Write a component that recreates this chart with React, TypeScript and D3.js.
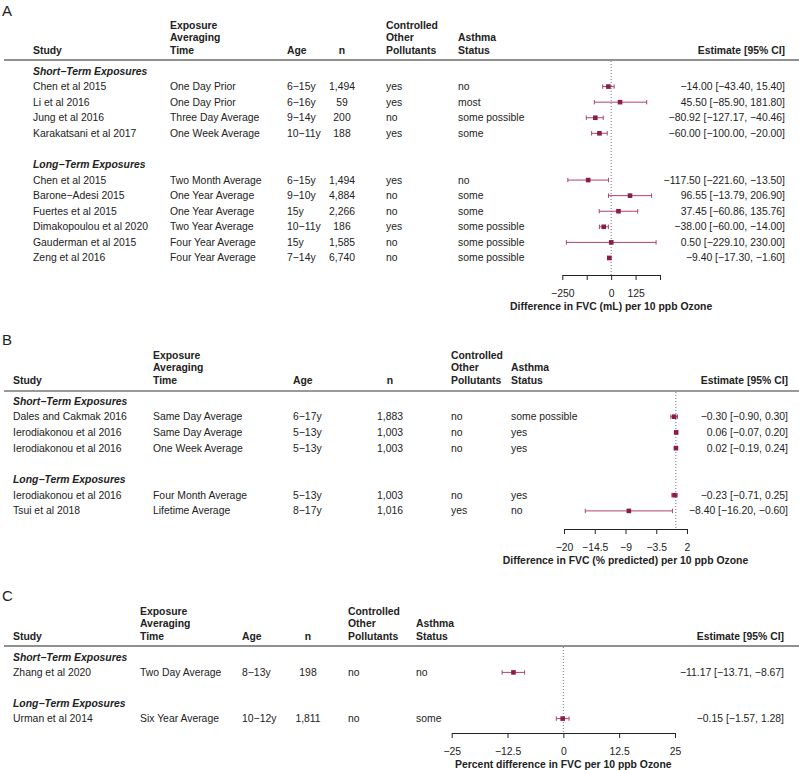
import React, { useEffect, useRef } from 'react';
import * as d3 from 'd3';

// ---------- Panel A: difference in FVC (mL)
const aTerm = ['short', 'short', 'short', 'short', 'long', 'long', 'long', 'long', 'long', 'long'];
const aStudy = ['Chen et al 2015', 'Li et al 2016', 'Jung et al 2016', 'Karakatsani et al 2017',
  'Chen et al 2015', 'Barone−Adesi 2015', 'Fuertes et al 2015', 'Dimakopoulou et al 2020',
  'Gauderman et al 2015', 'Zeng et al 2016'];
const aTime = ['One Day Prior', 'One Day Prior', 'Three Day Average', 'One Week Average',
  'Two Month Average', 'One Year Average', 'One Year Average', 'Two Year Average',
  'Four Year Average', 'Four Year Average'];
const aAge = ['6−15y', '6−16y', '9−14y', '10−11y', '6−15y', '9−10y', '15y', '10−11y', '15y', '7−14y'];
const aN = [1494, 59, 200, 188, 1494, 4884, 2266, 186, 1585, 6740];
const aOther = ['yes', 'yes', 'no', 'yes', 'yes', 'no', 'no', 'yes', 'no', 'no'];
const aAsthma = ['no', 'most', 'some possible', 'some', 'no', 'some', 'some', 'some possible',
  'some possible', 'some possible'];
const aEst = [-14.0, 45.5, -80.92, -60.0, -117.5, 96.55, 37.45, -38.0, 0.5, -9.4];
const aLo = [-43.4, -85.9, -127.17, -100.0, -221.6, -13.79, -60.86, -60.0, -229.1, -17.3];
const aHi = [15.4, 181.8, -40.46, -20.0, -13.5, 206.9, 135.76, -14.0, 230.0, -1.6];
const aTicks = [-250, -125, 0, 125, 250];
const aTickLabels = ['−250', '', '0', '125', ''];

// ---------- Panel B: difference in FVC (% predicted)
const bTerm = ['short', 'short', 'short', 'long', 'long'];
const bStudy = ['Dales and Cakmak 2016', 'Ierodiakonou et al 2016', 'Ierodiakonou et al 2016',
  'Ierodiakonou et al 2016', 'Tsui et al 2018'];
const bTime = ['Same Day Average', 'Same Day Average', 'One Week Average', 'Four Month Average',
  'Lifetime Average'];
const bAge = ['6−17y', '5−13y', '5−13y', '5−13y', '8−17y'];
const bN = [1883, 1003, 1003, 1003, 1016];
const bOther = ['no', 'no', 'no', 'no', 'yes'];
const bAsthma = ['some possible', 'yes', 'yes', 'yes', 'no'];
const bEst = [-0.3, 0.06, 0.02, -0.23, -8.4];
const bLo = [-0.9, -0.07, -0.19, -0.71, -16.2];
const bHi = [0.3, 0.2, 0.24, 0.25, -0.6];
const bTicks = [-20, -14.5, -9, -3.5, 2];
const bTickLabels = ['−20', '−14.5', '−9', '−3.5', '2'];

// ---------- Panel C: percent difference in FVC
const cTerm = ['short', 'long'];
const cStudy = ['Zhang et al 2020', 'Urman et al 2014'];
const cTime = ['Two Day Average', 'Six Year Average'];
const cAge = ['8−13y', '10−12y'];
const cN = [198, 1811];
const cOther = ['no', 'no'];
const cAsthma = ['no', 'some'];
const cEst = [-11.17, -0.15];
const cLo = [-13.71, -1.57];
const cHi = [-8.67, 1.28];
const cTicks = [-25, -12.5, 0, 12.5, 25];
const cTickLabels = ['−25', '−12.5', '0', '12.5', '25'];

const groupLabels = { short: 'Short−Term Exposures', long: 'Long−Term Exposures' };

const FONT = '"Liberation Sans", Arial, Helvetica, sans-serif';
const FS = 10.4;
const INK = '#222';
const SQ = '#8c1c40';
const CI = '#b0446a';

const fmtN = d3.format(',');
const fmt2 = (v: number) => v.toFixed(2).replace('-', '−');

function Axis({ scale, y, ticks, labels }: any) {
  const ref = useRef<SVGGElement>(null);
  useEffect(() => {
    const g = d3.select(ref.current);
    g.selectAll('*').remove();
    g.call(d3.axisBottom(scale)
      .tickValues(ticks)
      .tickFormat((d: any, i: number) => labels[i])
      .tickSize(5)
      .tickSizeOuter(0) as any);
    g.attr('font-family', null).attr('font-size', null);
    g.select('.domain').attr('stroke', INK);
    g.selectAll('.tick line').attr('stroke', INK);
    g.selectAll('.tick text').attr('y', 14.5).attr('dy', '0.35em').attr('fill', INK);
  });
  return <g ref={ref} transform={`translate(0,${y})`} />;
}

function Panel({ cfg, d }: any) {
  const x = d3.scaleLinear().domain(cfg.domain).range(cfg.range);
  // row order: group label, studies, blank, group label, studies
  const rows: any[] = [];
  ['short', 'long'].forEach((grp, gi) => {
    if (gi > 0) rows.push({ kind: 'blank' });
    rows.push({ kind: 'group', label: (groupLabels as any)[grp] });
    d.term.forEach((t: string, i: number) => { if (t === grp) rows.push({ kind: 'study', i }); });
  });
  const y = (k: number) => cfg.rowY0 + k * cfg.rowStep;
  const [h1, h2, h3] = cfg.head;
  const c = cfg.col;
  const hd = { fontWeight: 'bold' as const };
  return (
    <g>
      <text x={cfg.letterX} y={cfg.letterY} dominantBaseline="central" fontSize={15}>{cfg.letter}</text>
      <g style={hd}>
        <text x={c.study} y={h3}>Study</text>
        <text x={c.time} y={h1}>Exposure</text>
        <text x={c.time} y={h2}>Averaging</text>
        <text x={c.time} y={h3}>Time</text>
        <text x={c.age} y={h3}>Age</text>
        <text x={c.n} y={h3} textAnchor="middle">n</text>
        <text x={c.other} y={h1}>Controlled</text>
        <text x={c.other} y={h2}>Other</text>
        <text x={c.other} y={h3}>Pollutants</text>
        <text x={c.asthma} y={h2}>Asthma</text>
        <text x={c.asthma} y={h3}>Status</text>
        <text x={c.est} y={h3} textAnchor="end">Estimate [95% CI]</text>
      </g>
      <line x1={4} x2={799} y1={cfg.ruleY} y2={cfg.ruleY} stroke={cfg.ruleColor} strokeWidth={cfg.ruleWidth} />
      <line x1={x(0)} x2={x(0)} y1={cfg.ruleY + 1} y2={cfg.axisY} stroke="#777" strokeWidth={1} strokeDasharray="1,2" />
      {rows.map((r, k) => {
        if (r.kind === 'blank') return null;
        if (r.kind === 'group') {
          return <text key={k} x={c.study} y={y(k)} fontWeight="bold" fontStyle="italic">{r.label}</text>;
        }
        const i = r.i;
        const yy = y(k);
        return (
          <g key={k}>
            <text x={c.study} y={yy}>{d.study[i]}</text>
            <text x={c.time} y={yy}>{d.time[i]}</text>
            <text x={c.age} y={yy}>{d.age[i]}</text>
            <text x={c.n} y={yy} textAnchor="middle">{fmtN(d.n[i])}</text>
            <text x={c.other} y={yy}>{d.other[i]}</text>
            <text x={c.asthma} y={yy}>{d.asthma[i]}</text>
            <text x={c.est} y={yy} textAnchor="end">
              {`${fmt2(d.est[i])} [${fmt2(d.lo[i])}, ${fmt2(d.hi[i])}]`}
            </text>
            <g stroke={CI} strokeWidth={1}>
              <line x1={x(d.lo[i])} x2={x(d.hi[i])} y1={yy} y2={yy} />
              <line x1={x(d.lo[i])} x2={x(d.lo[i])} y1={yy - 2.2} y2={yy + 2.2} />
              <line x1={x(d.hi[i])} x2={x(d.hi[i])} y1={yy - 2.2} y2={yy + 2.2} />
            </g>
            <rect x={x(d.est[i]) - 2.3} y={yy - 2.3} width={4.6} height={4.6} fill={SQ} />
          </g>
        );
      })}
      <Axis scale={x} y={cfg.axisY} ticks={cfg.ticks} labels={cfg.tickLabels} />
      <text x={(cfg.range[0] + cfg.range[1]) / 2} y={cfg.axisY + 31} textAnchor="middle" fontWeight="bold">{cfg.title}</text>
    </g>
  );
}

const cfgA = {
  letter: 'A', letterX: 2, letterY: 10, head: [25, 37.5, 50], ruleY: 60, ruleColor: '#222', ruleWidth: 1.2,
  rowY0: 71, rowStep: 15.58, axisY: 275, domain: [-250, 250], range: [562.3, 660],
  ticks: aTicks, tickLabels: aTickLabels, title: 'Difference in FVC (mL) per 10 ppb Ozone',
  col: { study: 33, time: 170, age: 287, n: 342, other: 386, asthma: 458, est: 785 },
};
const cfgB = {
  letter: 'B', letterX: 2, letterY: 339, head: [355, 367.5, 380], ruleY: 391, ruleColor: '#777', ruleWidth: 1.6,
  rowY0: 401, rowStep: 15.7, axisY: 529, domain: [-20, 2], range: [564, 687],
  ticks: bTicks, tickLabels: bTickLabels, title: 'Difference in FVC (% predicted) per 10 ppb Ozone',
  col: { study: 13, time: 153, age: 293, n: 390, other: 451, asthma: 511, est: 788 },
};
const cfgC = {
  letter: 'C', letterX: 2, letterY: 595, head: [611, 623.5, 636], ruleY: 646, ruleColor: '#222', ruleWidth: 1.2,
  rowY0: 657, rowStep: 15.4, axisY: 733, domain: [-25, 25], range: [451.7, 675],
  ticks: cTicks, tickLabels: cTickLabels, title: 'Percent difference in FVC per 10 ppb Ozone',
  col: { study: 13, time: 140, age: 242, n: 308, other: 348, asthma: 416, est: 784 },
};

export default function App() {
  const dA = { term: aTerm, study: aStudy, time: aTime, age: aAge, n: aN, other: aOther, asthma: aAsthma, est: aEst, lo: aLo, hi: aHi };
  const dB = { term: bTerm, study: bStudy, time: bTime, age: bAge, n: bN, other: bOther, asthma: bAsthma, est: bEst, lo: bLo, hi: bHi };
  const dC = { term: cTerm, study: cStudy, time: cTime, age: cAge, n: cN, other: cOther, asthma: cAsthma, est: cEst, lo: cLo, hi: cHi };
  return (
    <svg width={799} height={770} style={{ position: 'absolute', left: 0, top: 0, background: '#fff' }}
      fontFamily={FONT} fontSize={FS} fill={INK} dominantBaseline="central">
      <Panel cfg={cfgA} d={dA} />
      <Panel cfg={cfgB} d={dB} />
      <Panel cfg={cfgC} d={dC} />
    </svg>
  );
}
